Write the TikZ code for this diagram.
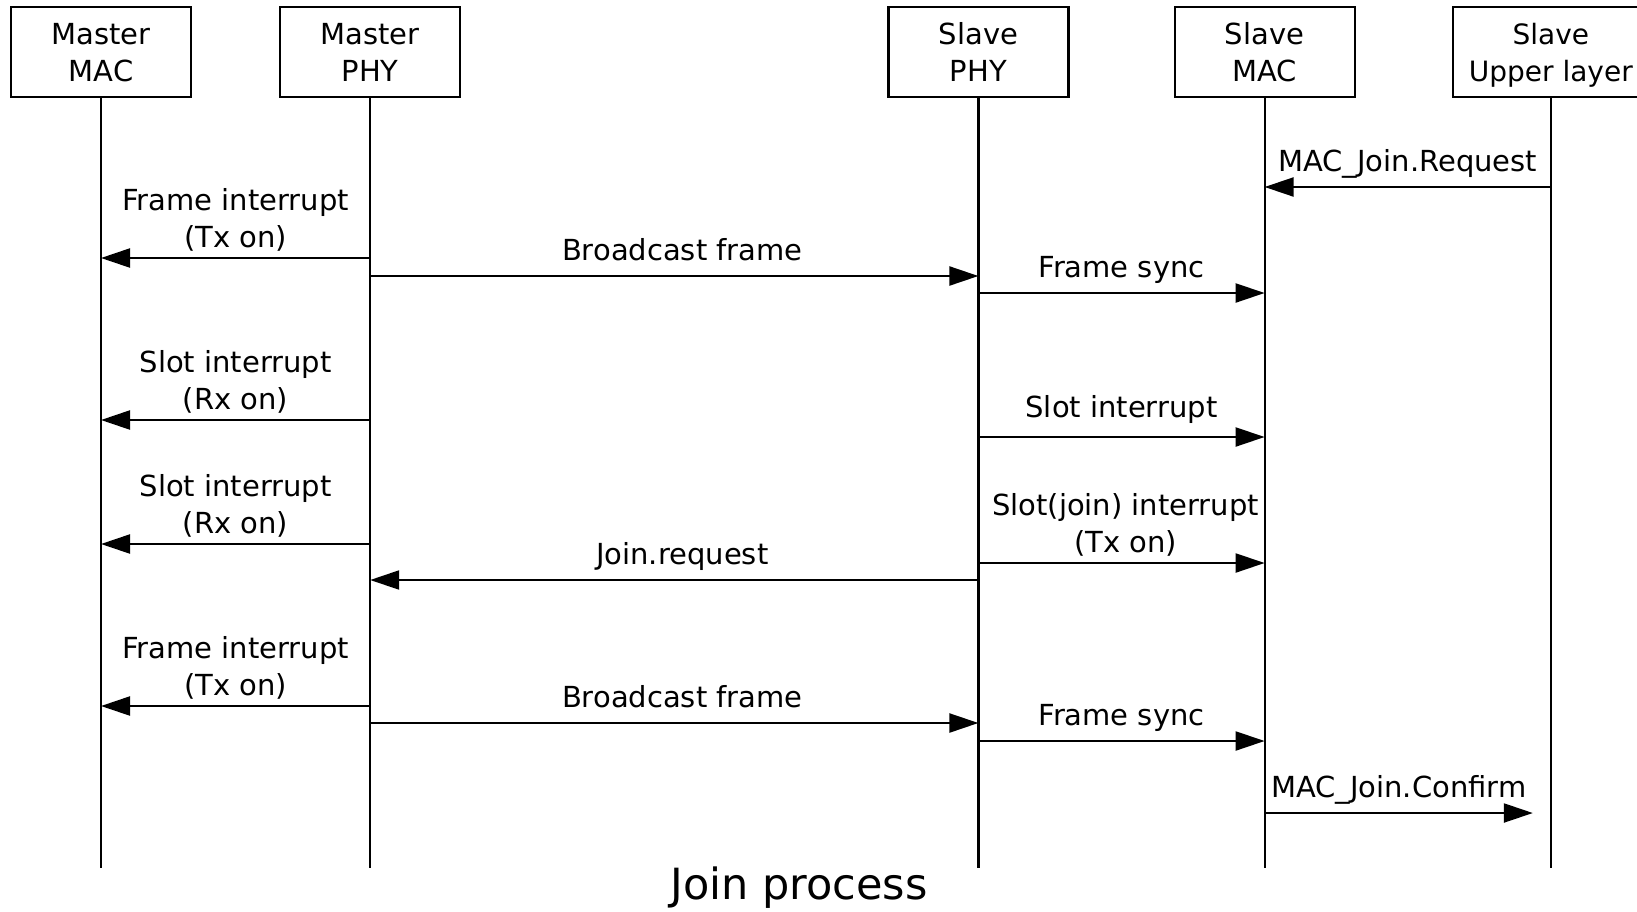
\documentclass[tikz,border=0pt]{standalone}
\usepackage{fontspec}
\setmainfont{DejaVu Sans}
\usetikzlibrary{positioning,arrows.meta}

\begin{document}
\begin{tikzpicture}[x=1pt,y=1pt,
    cell/.style = {align=center, text centered, rectangle, draw=black,
        line width=2.2pt, minimum width=180pt, minimum height=90pt,
        inner xsep=2pt, text depth=0pt,
        font=\fontsize{29}{37}\selectfont},
    life/.style = {line width=2.2pt},
    msg/.style = {line width=2.2pt, -{Triangle[length=29pt,width=19pt]}},
    lbl/.style = {midway, above=14pt, inner sep=0pt, align=center,
        text depth=0pt, font=\fontsize{29}{37}\selectfont}]
  \fill[white] (0,0) rectangle (1637,-911);
  \useasboundingbox (0,0) rectangle (1637,-911);
  \node[cell] (mmac) at (101,-52) {Master\\MAC}; \node[right = 87pt of mmac,
  cell] (mphy) {Master\\PHY}; \node[right = 426pt of mphy, cell] (sphy)
  {Slave\\PHY}; \node[right = 104pt of sphy, cell] (smac) {Slave\\MAC};
  \node[right = 96pt of smac, cell, minimum width=196pt,
  font=\fontsize{28}{37}\selectfont] (sup) {Slave\\Upper layer};
  \foreach \n in {mmac,mphy,sphy,smac,sup}
    \draw[life] (\n.south) -- (\n.south |- 0,-868);
  \draw[msg] (sup |- 0,-187) -- (smac |- 0,-187) node[lbl] {MAC\_Join.Request};
  \draw[msg] (mphy |- 0,-258) -- (mmac |- 0,-258) node[lbl, above=9pt] {Frame interrupt\\(Tx on)};
  \draw[msg] (mphy |- 0,-276) -- (sphy |- 0,-276) node[lbl, xshift=8pt] {Broadcast frame};
  \draw[msg] (sphy |- 0,-293) -- (smac |- 0,-293) node[lbl] {Frame sync};
  \draw[msg] (mphy |- 0,-420) -- (mmac |- 0,-420) node[lbl, above=9pt] {Slot interrupt\\(Rx on)};
  \draw[msg] (sphy |- 0,-437) -- (smac |- 0,-437) node[lbl, above=18pt] {Slot interrupt};
  \draw[msg] (mphy |- 0,-544) -- (mmac |- 0,-544) node[lbl, above=9pt] {Slot interrupt\\(Rx on)};
  \draw[msg] (sphy |- 0,-563) -- (smac |- 0,-563) node[lbl, above=9pt, xshift=4pt] {Slot(join) interrupt\\(Tx on)};
  \draw[msg] (sphy |- 0,-580) -- (mphy |- 0,-580) node[lbl, xshift=8pt] {Join.request};
  \draw[msg] (mphy |- 0,-706) -- (mmac |- 0,-706) node[lbl, above=9pt] {Frame interrupt\\(Tx on)};
  \draw[msg] (mphy |- 0,-723) -- (sphy |- 0,-723) node[lbl, xshift=8pt] {Broadcast frame};
  \draw[msg] (sphy |- 0,-741) -- (smac |- 0,-741) node[lbl] {Frame sync};
  \draw[msg, shorten >=18pt] (smac |- 0,-813) -- (sup |- 0,-813) node[lbl, xshift=-9pt] {MAC\_Join.Confirm};
  \node[font=\fontsize{43}{50}\selectfont] (title) at (799,-888) {Join process};
\end{tikzpicture}
\end{document}
